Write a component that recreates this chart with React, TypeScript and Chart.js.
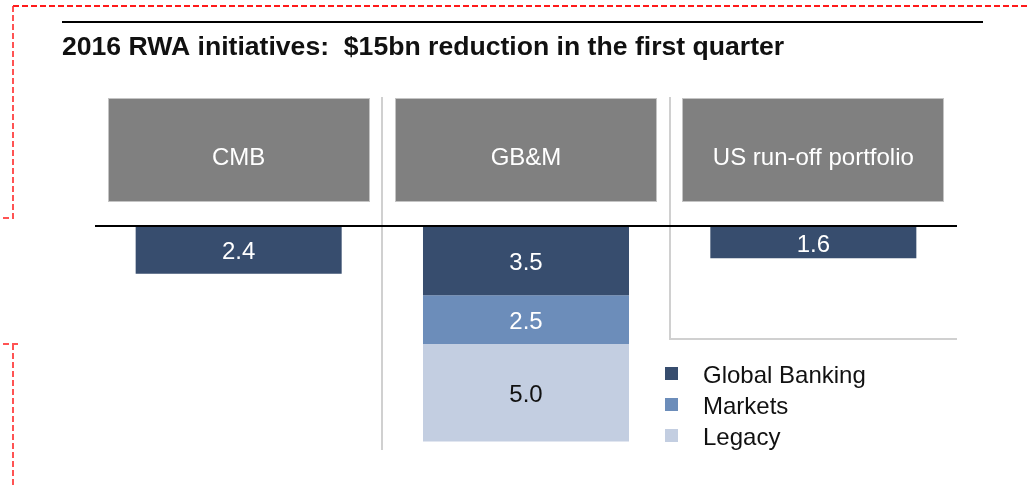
import React, { useEffect, useRef } from 'react';
import { Chart, registerables } from 'chart.js';

Chart.register(...registerables);

// ---- data ----
const categories = ['CMB', 'GB&M', 'US run-off portfolio'];
const segmentTotals = [2.4, null, 1.6];
const globalBanking = [null, 3.5, null];
const markets = [null, 2.5, null];
const legacy = [null, 5.0, null];
const legendLabels = ['Global Banking', 'Markets', 'Legacy'];
const titleText = '2016 RWA initiatives:  $15bn reduction in the first quarter';

// ---- styles ----
const DARK = '#374D6E';
const MID = '#6C8DBA';
const LIGHT = '#C3CEE1';
const FONT = "'Liberation Sans', Arial, Helvetica, sans-serif";

const decorPlugin = {
  id: 'decor',
  beforeDraw(chart: any) {
    const ctx = chart.ctx;
    const xs = chart.scales.x;
    ctx.save();
    ctx.fillStyle = '#ffffff';
    ctx.fillRect(0, 0, chart.width, chart.height);

    // red dashed frame marks
    ctx.lineWidth = 2;
    ctx.setLineDash([6, 3]);
    ctx.strokeStyle = '#ff1a1a';
    ctx.beginPath();
    ctx.moveTo(13, 6);
    ctx.lineTo(1027, 6);
    ctx.stroke();
    ctx.strokeStyle = 'rgba(255,40,40,0.8)';
    ctx.beginPath();
    ctx.moveTo(13, 6);
    ctx.lineTo(13, 218);
    ctx.lineTo(0, 218);
    ctx.stroke();
    ctx.beginPath();
    ctx.moveTo(3, 344);
    ctx.lineTo(18, 344);
    ctx.moveTo(13, 344);
    ctx.lineTo(13, 488);
    ctx.stroke();
    ctx.setLineDash([]);

    // title rule + title
    ctx.fillStyle = '#000000';
    ctx.fillRect(62, 21, 921, 2);
    ctx.font = `bold 26.6px ${FONT}`;
    ctx.fillStyle = '#111111';
    ctx.textAlign = 'left';
    ctx.textBaseline = 'alphabetic';
    ctx.fillText(titleText, 62, 55);

    // separators
    const c0 = xs.getPixelForValue(0);
    const c1 = xs.getPixelForValue(1);
    const c2 = xs.getPixelForValue(2);
    const s1 = Math.round((c0 + c1) / 2);
    const s2 = Math.round((c1 + c2) / 2);
    ctx.fillStyle = '#d0d0d0';
    ctx.fillRect(s1 - 1, 97, 2, 353);
    ctx.fillRect(s2 - 1, 97, 2, 243);
    ctx.fillRect(s2 - 1, 338, chart.chartArea.right - s2 + 1, 2);

    // header boxes
    categories.forEach((cat, i) => {
      const cx = xs.getPixelForValue(i);
      const left = Math.round(cx - 130);
      ctx.fillStyle = '#c4c4c4';
      ctx.fillRect(left - 1, 98, 262, 104);
      ctx.fillStyle = '#808080';
      ctx.fillRect(left, 99, 260, 102);
      ctx.fillStyle = '#ffffff';
      ctx.font = `24px ${FONT}`;
      ctx.textAlign = 'center';
      ctx.textBaseline = 'alphabetic';
      ctx.fillText(cat, cx, 165);
    });
    ctx.restore();
  },
  afterDatasetsDraw(chart: any) {
    const ctx = chart.ctx;
    const area = chart.chartArea;
    ctx.save();
    // baseline
    ctx.fillStyle = '#000000';
    ctx.fillRect(area.left, area.top - 2, area.right - area.left, 2);

    // value labels
    ctx.font = `24px ${FONT}`;
    ctx.textAlign = 'center';
    ctx.textBaseline = 'alphabetic';
    chart.data.datasets.forEach((ds: any, i: number) => {
      const meta = chart.getDatasetMeta(i);
      meta.data.forEach((el: any, j: number) => {
        const v = ds.data[j];
        if (v == null) return;
        const p = el.getProps(['x', 'y', 'base'], true);
        const cy = (p.y + p.base) / 2;
        ctx.fillStyle = ds.labelColor;
        ctx.fillText(Number(v).toFixed(1), p.x, cy + 9);
      });
    });

    // legend
    const colors = [DARK, MID, LIGHT];
    const baselines = [383, 414, 445];
    legendLabels.forEach((lab, i) => {
      ctx.fillStyle = colors[i];
      ctx.fillRect(665, baselines[i] - 16, 13, 13);
      ctx.fillStyle = '#111111';
      ctx.textAlign = 'left';
      ctx.fillText(lab, 703, baselines[i]);
    });
    ctx.restore();
  },
};

export default function App() {
  const ref = useRef<HTMLCanvasElement | null>(null);
  useEffect(() => {
    if (!ref.current) return;
    const chart = new Chart(ref.current, {
      type: 'bar',
      data: {
        labels: categories,
        datasets: [
          { label: 'Segment', data: segmentTotals, backgroundColor: DARK, labelColor: '#ffffff', stack: 's' } as any,
          { label: legendLabels[0], data: globalBanking, backgroundColor: DARK, labelColor: '#ffffff', stack: 's' } as any,
          { label: legendLabels[1], data: markets, backgroundColor: MID, labelColor: '#ffffff', stack: 's' } as any,
          { label: legendLabels[2], data: legacy, backgroundColor: LIGHT, labelColor: '#111111', stack: 's' } as any,
        ],
      },
      options: {
        animation: false,
        responsive: false,
        devicePixelRatio: 1,
        layout: { padding: { left: 95, right: 70, top: 227, bottom: 27 } },
        datasets: { bar: { categoryPercentage: 1, barPercentage: 0.717, borderWidth: 0, skipNull: true } },
        plugins: { legend: { display: false }, tooltip: { enabled: false }, title: { display: false } },
        scales: {
          x: { display: false, stacked: true },
          y: { display: false, stacked: true, reverse: true, min: 0, max: 12 },
        },
      },
      plugins: [decorPlugin],
    });
    return () => chart.destroy();
  }, []);
  return (
    <div style={{ position: 'fixed', left: 0, top: 0, width: 1027, height: 488, background: '#fff' }}>
      <canvas ref={ref} width={1027} height={488} style={{ display: 'block', width: 1027, height: 488 }} />
    </div>
  );
}
